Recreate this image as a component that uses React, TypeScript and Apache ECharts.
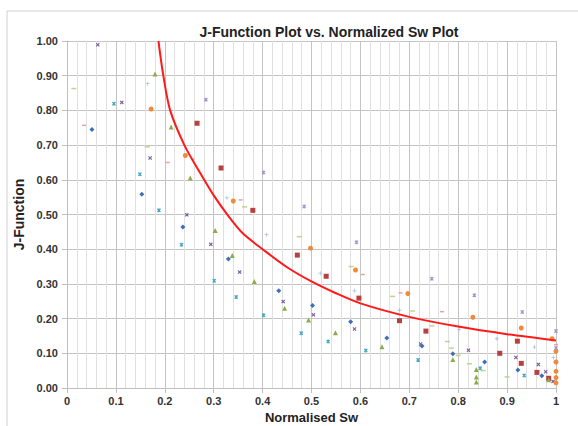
import React, { useEffect, useRef } from "react";
import * as echarts from "echarts";

const xTicks = ["0", "0.1", "0.2", "0.3", "0.4", "0.5", "0.6", "0.7", "0.8", "0.9", "1"];

const blueX = [0.051, 0.153, 0.237, 0.33, 0.433, 0.502, 0.58, 0.654, 0.726, 0.789, 0.854, 0.922, 0.971];
const blueY = [0.745, 0.558, 0.464, 0.372, 0.28, 0.238, 0.191, 0.144, 0.121, 0.099, 0.075, 0.052, 0.035];

const redX = [0.266, 0.315, 0.38, 0.471, 0.53, 0.597, 0.68, 0.734, 0.885, 0.921, 0.929, 0.961, 0.985];
const redY = [0.763, 0.634, 0.512, 0.383, 0.322, 0.259, 0.194, 0.164, 0.1, 0.135, 0.071, 0.045, 0.028];

const greenX = [0.18, 0.213, 0.252, 0.303, 0.338, 0.383, 0.445, 0.494, 0.549, 0.644, 0.789, 0.837, 0.837, 0.837, 0.985];
const greenY = [0.905, 0.752, 0.605, 0.454, 0.382, 0.307, 0.23, 0.196, 0.159, 0.119, 0.082, 0.053, 0.032, 0.017, 0.024];

const purpleX = [0.063, 0.112, 0.17, 0.245, 0.294, 0.353, 0.442, 0.504, 0.588, 0.723, 0.821, 0.918, 0.964, 0.979, 0.994];
const purpleY = [0.989, 0.823, 0.663, 0.499, 0.414, 0.334, 0.249, 0.211, 0.17, 0.127, 0.109, 0.088, 0.068, 0.047, 0.019];

const aquaX = [0.096, 0.149, 0.188, 0.234, 0.301, 0.346, 0.402, 0.479, 0.534, 0.611, 0.718, 0.845, 0.935];
const aquaY = [0.819, 0.616, 0.512, 0.413, 0.309, 0.262, 0.21, 0.158, 0.134, 0.108, 0.081, 0.057, 0.036];

const orangeX = [0.172, 0.242, 0.34, 0.498, 0.59, 0.697, 0.83, 0.929, 0.992, 1, 1, 1, 1, 1];
const orangeY = [0.804, 0.67, 0.539, 0.403, 0.34, 0.272, 0.204, 0.173, 0.142, 0.106, 0.075, 0.048, 0.03, 0.015];

const lightBlueX = [0.165, 0.258, 0.327, 0.408, 0.518, 0.588, 0.68, 0.802, 0.879, 0.956, 0.995];
const lightBlueY = [0.877, 0.659, 0.548, 0.442, 0.331, 0.28, 0.224, 0.169, 0.142, 0.118, 0.088];

const pinkX = [0.035, 0.206, 0.355, 0.605, 0.682, 0.767, 0.874, 1.0];
const pinkY = [0.757, 0.65, 0.542, 0.327, 0.274, 0.22, 0.162, 0.125];

const lightGreenX = [0.014, 0.164, 0.363, 0.475, 0.581, 0.666, 0.707, 0.746, 0.778, 0.786, 0.8, 0.823, 0.851, 0.9];
const lightGreenY = [0.863, 0.695, 0.522, 0.436, 0.35, 0.264, 0.222, 0.179, 0.134, 0.115, 0.094, 0.07, 0.05, 0.032];

const lavenderX = [0.284, 0.402, 0.485, 0.592, 0.746, 0.833, 0.931, 1.0, 1.0];
const lavenderY = [0.831, 0.621, 0.523, 0.42, 0.315, 0.267, 0.219, 0.164, 0.115];

const curveX = [0.187, 0.197, 0.211, 0.24, 0.27, 0.3, 0.332, 0.36, 0.4, 0.45, 0.5, 0.55, 0.6, 0.7, 0.8, 0.9, 1.0];
const curveY = [1.0, 0.9, 0.8, 0.7, 0.625, 0.555, 0.492, 0.445, 0.4, 0.348, 0.307, 0.273, 0.244, 0.205, 0.177, 0.155, 0.137];

const X_PATH = "path://M0,1 L1,0 L2.5,1.5 L4,0 L5,1 L3.5,2.5 L5,4 L4,5 L2.5,3.5 L1,5 L0,4 L1.5,2.5 Z";
const STAR_PATH = "path://M0,1 L1,0 L2.5,1.5 L4,0 L5,1 L3.5,2.5 L5,4 L4,5 L2.5,3.5 L1,5 L0,4 L1.5,2.5 Z M2,0 L3,0 L3,5 L2,5 Z";
const PLUS_PATH = "path://M2,0 L3,0 L3,2 L5,2 L5,3 L3,3 L3,5 L2,5 L2,3 L0,3 L0,2 L2,2 Z";

const zip = (xs: number[], ys: number[]) => xs.map((x, i) => [x, ys[i]]);

const FONT = "'Liberation Sans', Arial, sans-serif";

export default function App() {
  const ref = useRef<HTMLDivElement>(null);
  useEffect(() => {
    document.body.style.margin = "0";
    if (!ref.current) return;
    const chart = echarts.init(ref.current, undefined, { renderer: "svg" });
    const scatter = (name: string, xs: number[], ys: number[], symbol: string, size: any, color: string) => ({
      name,
      type: "scatter",
      data: zip(xs, ys),
      symbol,
      symbolSize: size,
      itemStyle: { color, opacity: 1 },
      z: 3,
    });
    chart.setOption({
      animation: false,
      backgroundColor: "#ffffff",
      title: {
        text: "J-Function Plot vs. Normalized Sw Plot",
        left: 324,
        top: 20,
        textAlign: "center",
        textStyle: { fontFamily: FONT, fontSize: 14, fontWeight: "bold", color: "#222" },
      },
      graphic: [
        {
          type: "rect",
          shape: { x: 7, y: 11, width: 620, height: 460 },
          style: { fill: "none", stroke: "#d0d0d0", lineWidth: 1 },
          silent: true,
        },
      ],
      grid: { left: 67, right: 22, top: 41, bottom: 38, containLabel: false, outerBoundsMode: "none" },
      xAxis: {
        type: "value",
        min: 0,
        max: 1,
        interval: 0.1,
        name: "Normalised Sw",
        nameLocation: "middle",
        nameGap: 21,
        nameTextStyle: { fontFamily: FONT, fontSize: 13, fontWeight: "bold", color: "#222" },
        axisLine: { show: true, lineStyle: { color: "#bfbfbf" } },
        axisTick: { show: true, length: 5, lineStyle: { color: "#bfbfbf" } },
        axisLabel: {
          margin: 7,
          fontFamily: FONT,
          fontSize: 11,
          fontWeight: "bold",
          color: "#333",
          formatter: (v: number) => xTicks[Math.round(v * 10)],
        },
        splitLine: { show: true, lineStyle: { color: "#c4c4c4", width: 1 } },
        minorTick: { show: false, splitNumber: 5 },
        minorSplitLine: { show: true, lineStyle: { color: "#e0e0e0", width: 1 } },
      },
      yAxis: {
        type: "value",
        min: 0,
        max: 1,
        interval: 0.1,
        name: "J-Function",
        nameLocation: "middle",
        nameGap: 34,
        nameTextStyle: { fontFamily: FONT, fontSize: 14, fontWeight: "bold", color: "#222" },
        axisLine: { show: true, lineStyle: { color: "#bfbfbf" } },
        axisTick: { show: true, length: 5, lineStyle: { color: "#bfbfbf" } },
        axisLabel: {
          margin: 9,
          fontFamily: FONT,
          fontSize: 11,
          fontWeight: "bold",
          color: "#333",
          formatter: (v: number) => v.toFixed(2),
        },
        splitLine: { show: true, lineStyle: { color: "#c4c4c4", width: 1 } },
      },
      series: [
        scatter("S1", blueX, blueY, "diamond", 5, "#3f6fb5"),
        scatter("S2", redX, redY, "rect", 5, "#b7413e"),
        scatter("S3", greenX, greenY, "triangle", 5, "#8aad4a"),
        scatter("S4", purpleX, purpleY, X_PATH, 4, "#7a5fa0"),
        scatter("S5", aquaX, aquaY, STAR_PATH, 4, "#43a7c2"),
        scatter("S6", orangeX, orangeY, "circle", 5, "#f08a3a"),
        scatter("S7", lightBlueX, lightBlueY, PLUS_PATH, 4, "#a9c1e2"),
        scatter("S8", pinkX, pinkY, "rect", [4, 1.5], "#e8a3a1"),
        scatter("S9", lightGreenX, lightGreenY, "rect", [5, 1.5], "#bcd58e"),
        scatter("S10", lavenderX, lavenderY, STAR_PATH, 4, "#a594c8"),
        {
          name: "Trend",
          type: "line",
          data: zip(curveX, curveY),
          smooth: 0.3,
          symbol: "none",
          lineStyle: { color: "#ff1a1a", width: 2 },
          z: 4,
        },
      ],
    });
    return () => chart.dispose();
  }, []);
  return <div ref={ref} style={{ width: 578, height: 426 }} />;
}
